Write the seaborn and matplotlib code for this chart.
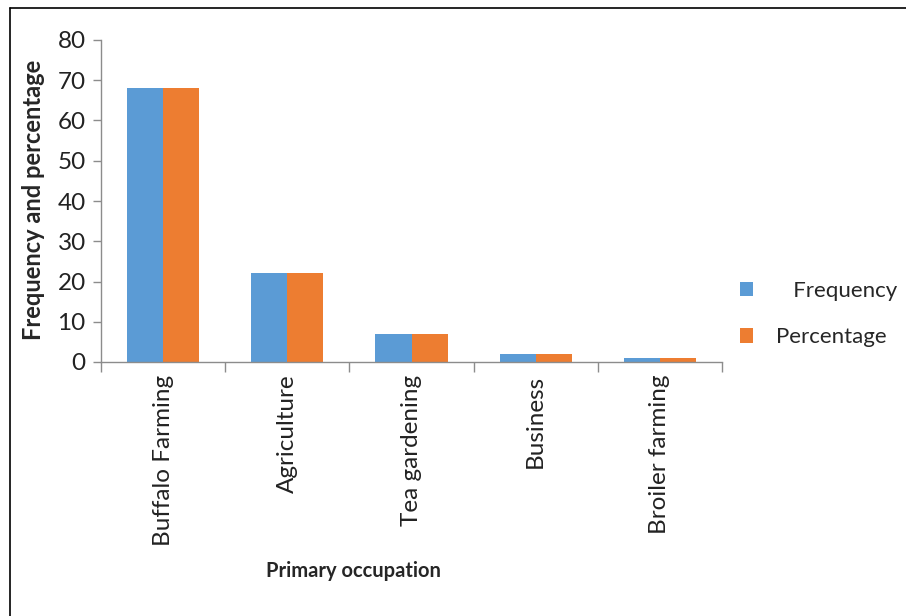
import matplotlib
matplotlib.use("Agg")
import matplotlib.pyplot as plt
import seaborn as sns
import pandas as pd
from matplotlib.lines import Line2D
from matplotlib.patches import Patch

categories = ["Buffalo Farming", "Agriculture", "Tea gardening", "Business", "Broiler farming"]
frequency = [68, 22, 7, 2, 1]
percentage = [68, 22, 7, 2, 1]
series_names = ["Frequency", "Percentage"]
y_ticks = [0, 10, 20, 30, 40, 50, 60, 70, 80]

colors = ["#5B9BD5", "#ED7D31"]

df = pd.DataFrame({
    "Occupation": categories * 2,
    "Value": frequency + percentage,
    "Series": [series_names[0]] * len(categories) + [series_names[1]] * len(categories),
})

sns.set_theme(style="white")
plt.rcParams["font.family"] = ["Lato", "DejaVu Sans"]

fig = plt.figure(figsize=(9.06, 6.16), dpi=100)
ax = fig.add_axes([101/906, 1 - 362/616, (722-101)/906, (362-40)/616])

sns.barplot(data=df, x="Occupation", y="Value", hue="Series", palette=colors,
            width=0.58, saturation=1, ax=ax, legend=False, linewidth=0)

ax.set_ylim(0, 80)
ax.set_xlim(-0.5, len(categories) - 0.5)
ax.set_yticks(y_ticks)
ax.set_yticklabels([str(t) for t in y_ticks], fontsize=17.5, color="#222222")
ax.set_xticks(range(len(categories)))
ax.set_xticklabels(categories, rotation=90, fontsize=17.5, color="#222222")
ax.tick_params(axis="x", length=0, pad=9)
ax.tick_params(axis="y", length=6, width=1, color="#8c8c8c", left=True, pad=5)

# category boundary ticks on the bottom axis
ax.set_xticks([i - 0.5 for i in range(len(categories) + 1)], minor=True)
ax.tick_params(axis="x", which="minor", length=7, width=1, color="#8c8c8c", bottom=True)

for s in ["top", "right"]:
    ax.spines[s].set_visible(False)
for s in ["left", "bottom"]:
    ax.spines[s].set_color("#8c8c8c")
    ax.spines[s].set_linewidth(1)

ax.set_ylabel("Frequency and percentage", fontsize=17, fontweight="bold")
ax.yaxis.set_label_coords(-(101-45)/621, (362-200)/322)
ax.set_xlabel("Primary occupation", fontsize=14.5, fontweight="bold")
ax.xaxis.set_label_coords((353-101)/621, -(561-362)/322)

handles = [Patch(facecolor=colors[0], edgecolor="none"),
           Patch(facecolor=colors[1], edgecolor="none")]
leg = fig.legend(handles, ["   Frequency", "Percentage"], loc="center left",
                 bbox_to_anchor=(740/906, 1 - 314/616), frameon=False,
                 borderpad=0, borderaxespad=0,
                 fontsize=16, handlelength=0.58, handleheight=0.65,
                 handletextpad=1.05, labelspacing=1.18)

# outer frame
fig.add_artist(Line2D([10/906, 10/906], [0, 1 - 8/616], transform=fig.transFigure,
                      color="black", linewidth=1.2))
fig.add_artist(Line2D([10/906, 1], [1 - 8/616, 1 - 8/616], transform=fig.transFigure,
                      color="black", linewidth=1.2))

fig.savefig("out.png", dpi=100, facecolor="white")
